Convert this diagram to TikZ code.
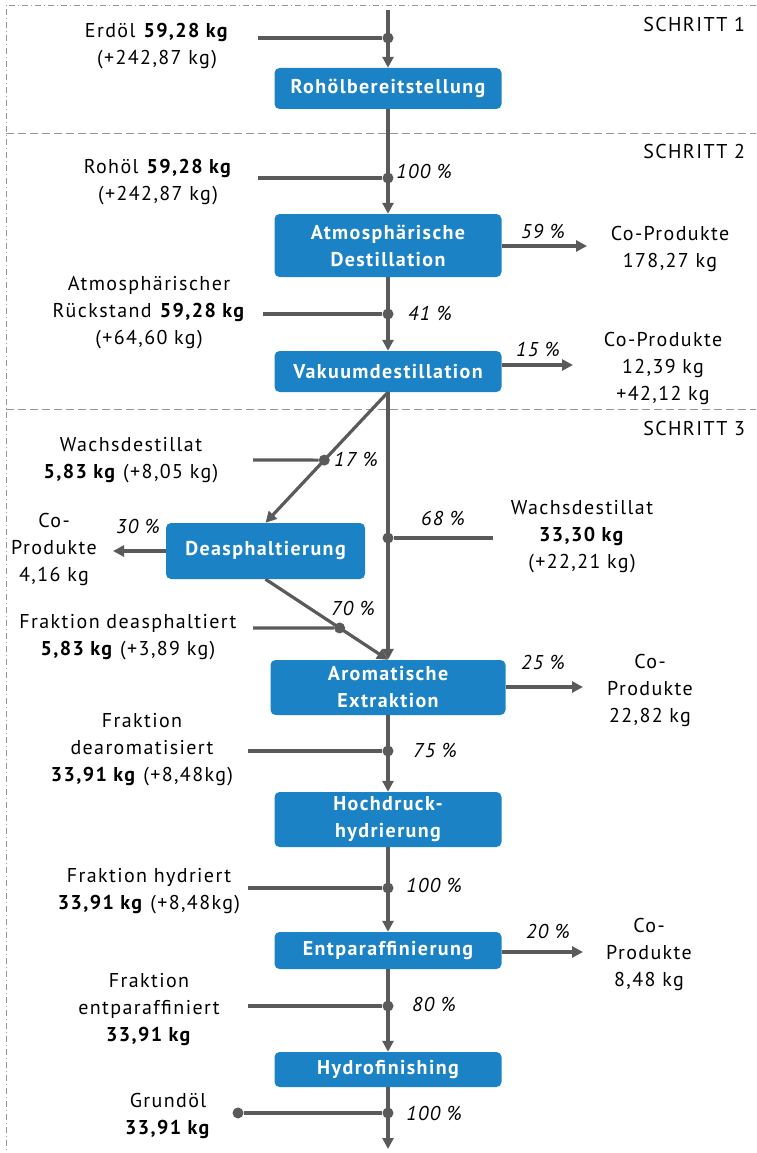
\documentclass[tikz,border=0pt]{standalone}
\usepackage{fontspec}
\setmainfont{PT Sans}[LetterSpace=7]
\usepackage{xcolor}
\usetikzlibrary{arrows.meta,calc}

\definecolor{boxblue}{RGB}{27,130,198}
\definecolor{linegray}{RGB}{90,90,90}
\definecolor{sepgray}{RGB}{150,150,150}

\tikzset{
  proc/.style={rectangle, rounded corners=5pt, fill=boxblue, text=white, font=\bfseries, align=center, minimum width=227pt, inner sep=0pt},
  flow/.style={line width=3.2pt, draw=linegray, -{Triangle[length=11pt,width=11pt]}},
  feed/.style={line width=3.2pt, draw=linegray},
  dot/.style={circle, fill=linegray, minimum size=11pt, inner sep=0pt},
  pct/.style={font=\itshape},
  lbl/.style={align=center},
  sep/.style={draw=sepgray, line width=0.8pt}
}

\begin{document}
\fontsize{20}{27}\selectfont
\begin{tikzpicture}[x=1pt, y=-1pt]
    \useasboundingbox (0,0) rectangle (756,1153);

    % Frame and steps
    \draw[sep, dash pattern=on 6pt off 3pt on 1pt off 3pt] (756,5) -- (6,5) -- (6,1153);
    \draw[sep, dash pattern=on 8pt off 4pt] (6,133) -- (756,133);
    \draw[sep, dash pattern=on 8pt off 4pt] (6,409) -- (756,409);
    \node (s1) [anchor=base east] at (752,32) {SCHRITT 1};
    \node (s2) [anchor=base east] at (752,158) {SCHRITT 2};
    \node (s3) [anchor=base east] at (752,435) {SCHRITT 3};

    % Process boxes
    \node (rohoel) [proc, minimum height=41pt] at (388,88.5) {Rohölbereitstellung};
    \node (atmdest) [proc, minimum height=63pt] at (388,245.5) {Atmosphärische\\Destillation};
    \node (vakuum) [proc, minimum height=41pt] at (388,371.5) {Vakuumdestillation};
    \node (deasph) [proc, minimum width=199pt, minimum height=56pt] at (265.5,551) {Deasphaltierung};
    \node (aromat) [proc, minimum width=235pt, minimum height=55pt] at (388,687.5) {Aromatische\\Extraktion};
    \node (hydrier) [proc, minimum height=55pt] at (388,819.5) {Hochdruck-\\hydrierung};
    \node (entpar) [proc, minimum height=37pt] at (388,950.5) {Entparaffinierung};
    \node (hydrofin) [proc, minimum height=35pt] at (388,1069.5) {Hydrofinishing};

    % Junctions and free ends
    \coordinate (top) at (388,10);
    \coordinate (bottom) at (388,1149);
    \node (j1) [dot] at (388,38) {};
    \node (j2) [dot] at (388,178) {};
    \node (j3) [dot] at (388,314) {};
    \node (j4) [dot] at ($(vakuum.south)!0.52!(deasph.north)$) {};
    \node (j5) [dot] at (388,538) {};
    \node (j6) [dot] at ($(deasph.south)!0.605!(aromat.north)$) {};
    \node (j7) [dot] at (388,751) {};
    \node (j8) [dot] at (388,888) {};
    \node (j9) [dot] at (388,1006) {};
    \node (j10) [dot] at (388,1113) {};
    \node (out) [dot] at (238,1113) {};
    \coordinate (in1) at (258,38);
    \coordinate (in2) at (258,178);
    \coordinate (in3) at (263,314);
    \coordinate (in4) at (253,460);
    \coordinate (in5) at (493,538);
    \coordinate (in6) at (253,628);
    \coordinate (in7) at (248,751);
    \coordinate (in8) at (248,888);
    \coordinate (in9) at (248,1006);
    \coordinate (co1) at (587,246);
    \coordinate (co2) at (573,365);
    \coordinate (co3) at (113,551);
    \coordinate (co4) at (583,687);
    \coordinate (co5) at (583,952);

    % Main flow
    \draw[flow] (top) -- (rohoel);
    \draw[flow] (rohoel) -- (atmdest);
    \draw[flow] (atmdest) -- (vakuum);
    \draw[flow] (vakuum.south) -- (deasph.north);
    \draw[flow] (vakuum.south) -- (aromat.north);
    \draw[flow] (deasph.south) -- (aromat.north);
    \draw[flow] (aromat) -- (hydrier);
    \draw[flow] (hydrier) -- (entpar);
    \draw[flow] (entpar) -- (hydrofin);
    \draw[flow] (hydrofin) -- (bottom);

    % Inputs
    \draw[feed] (in1) -- (j1);
    \draw[feed] (in2) -- (j2);
    \draw[feed] (in3) -- (j3);
    \draw[feed] (in4) -- (j4);
    \draw[feed] (in5) -- (j5);
    \draw[feed] (in6) -- (j6);
    \draw[feed] (in7) -- (j7);
    \draw[feed] (in8) -- (j8);
    \draw[feed] (in9) -- (j9);
    \draw[feed] (out) -- (j10);

    % Co-products
    \draw[flow] (atmdest.east |- co1) -- (co1);
    \draw[flow] (vakuum.east |- co2) -- (co2);
    \draw[flow] (deasph.west) -- (co3);
    \draw[flow] (aromat.east |- co4) -- (co4);
    \draw[flow] (entpar.east |- co5) -- (co5);

    % Shares
    \node (p1) [pct] at (424,171) {100 \%};
    \node (p2) [pct] at (543,231) {59 \%};
    \node (p3) [pct] at (430,313) {41 \%};
    \node (p4) [pct] at (538,349) {15 \%};
    \node (p5) [pct] at (356,459) {17 \%};
    \node (p6) [pct] at (443,518) {68 \%};
    \node (p7) [pct] at (138,526) {30 \%};
    \node (p8) [pct] at (353,608) {70 \%};
    \node (p9) [pct] at (543,662) {25 \%};
    \node (p10) [pct] at (435,750) {75 \%};
    \node (p11) [pct] at (434,885) {100 \%};
    \node (p12) [pct] at (548,931) {20 \%};
    \node (p13) [pct] at (434,1004) {80 \%};
    \node (p14) [pct] at (434,1113) {100 \%};

    % Masses
    \node (erdoel) [lbl] at (157,46.5) {Erdöl \textbf{59,28 kg}\\(+242,87 kg)};
    \node (rohoeltxt) [lbl] at (158,182.5) {Rohöl \textbf{59,28 kg}\\(+242,87 kg)};
    \node (cop1) [lbl] at (670,248.5) {Co-Produkte\\178,27 kg};
    \node (rueck) [lbl] at (149,312.5) {Atmosphärischer\\Rückstand \textbf{59,28 kg}\\(+64,60 kg)};
    \node (cop2) [lbl] at (663,368.5) {Co-Produkte\\12,39 kg\\+42,12 kg};
    \node (wachs1) [lbl] at (131,460) {Wachsdestillat\\\textbf{5,83 kg} (+8,05 kg)};
    \node (wachs2) [lbl] at (582,537) {Wachsdestillat\\\textbf{33,30 kg}\\(+22,21 kg)};
    \node (cop3) [lbl] at (54,549) {Co-\\Produkte\\4,16 kg};
    \node (fdeas) [lbl] at (128,637.5) {Fraktion deasphaltiert\\\textbf{5,83 kg} (+3,89 kg)};
    \node (cop4) [lbl] at (650,690) {Co-\\Produkte\\22,82 kg};
    \node (fdearo) [lbl] at (142,750) {Fraktion\\dearomatisiert\\\textbf{33,91 kg} (+8,48kg)};
    \node (fhydr) [lbl] at (149,891.5) {Fraktion hydriert\\\textbf{33,91 kg} (+8,48kg)};
    \node (cop5) [lbl] at (649,954.5) {Co-\\Produkte\\8,48 kg};
    \node (fentp) [lbl] at (149,1010) {Fraktion\\entparaffiniert\\\textbf{33,91 kg}};
    \node (grund) [lbl] at (168,1116) {Grundöl\\\textbf{33,91 kg}};
\end{tikzpicture}
\end{document}
